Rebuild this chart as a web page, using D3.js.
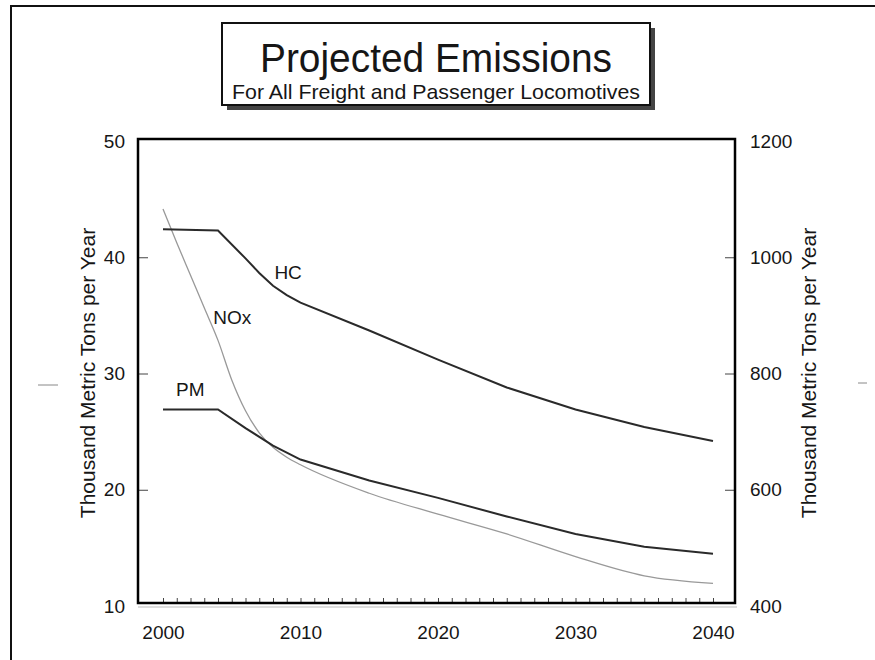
<!DOCTYPE html>
<html>
<head>
<meta charset="utf-8">
<script src="https://cdn.jsdelivr.net/npm/d3@7"></script>
<style>
  body { margin: 0; background: #fff; }
  svg { display: block; font-family: "Liberation Sans", Arial, Helvetica, sans-serif; }
</style>
</head>
<body>
<svg id="chart"></svg>
<script>
// values
const hcYears = [2000, 2004, 2006, 2007, 2008, 2009, 2010, 2015, 2020, 2025, 2030, 2035, 2040];
const hcValues = [42.4, 42.3, 39.9, 38.65, 37.55, 36.75, 36.1, 33.7, 31.2, 28.8, 26.9, 25.4, 24.2];

const pmYears = [2000, 2004, 2006, 2008, 2010, 2015, 2020, 2025, 2030, 2035, 2040];
const pmValues = [26.9, 26.9, 25.3, 23.8, 22.6, 20.8, 19.3, 17.7, 16.2, 15.1, 14.5];

const noxYears = [2000, 2001, 2002, 2003, 2004, 2005, 2006, 2007, 2008, 2009, 2010, 2015, 2020, 2025, 2030, 2035, 2040];
const noxValues = [1083, 1025, 969, 913, 857, 789, 736, 698, 673, 656, 643, 594, 558, 524, 485, 452, 439];

const leftTicks = [10, 20, 30, 40, 50];
const rightTicks = [400, 600, 800, 1000, 1200];
const yearLabels = [2000, 2010, 2020, 2030, 2040];

const title = 'Projected Emissions';
const subtitle = 'For All Freight and Passenger Locomotives';
const yTitle = 'Thousand Metric Tons per Year';

const width = 875, height = 660;
const frame = {left: 138, right: 735, top: 139, bottom: 603};
const ink = '#161616';

const svg = d3.select('#chart')
    .attr('width', width)
    .attr('height', height);

// page border (top and left edge of the scanned sheet)
svg.append('path')
    .attr('d', `M11,${height} L11,6 L${width},6`)
    .attr('fill', 'none')
    .attr('stroke', '#111')
    .attr('stroke-width', 2);

// little punch marks on both sides
svg.append('line').attr('x1', 38).attr('x2', 58).attr('y1', 385).attr('y2', 385)
    .attr('stroke', '#888').attr('stroke-width', 1);
svg.append('line').attr('x1', 858).attr('x2', 867).attr('y1', 383).attr('y2', 383)
    .attr('stroke', '#888').attr('stroke-width', 1);

// title box with drop shadow
const box = {x: 222, y: 23, w: 428, h: 82};
svg.append('rect')
    .attr('x', box.x + 5).attr('y', box.y + 5)
    .attr('width', box.w).attr('height', box.h)
    .attr('fill', '#444');
svg.append('rect')
    .attr('x', box.x).attr('y', box.y)
    .attr('width', box.w).attr('height', box.h)
    .attr('fill', '#fff')
    .attr('stroke', '#111')
    .attr('stroke-width', 2);
svg.append('text')
    .attr('x', box.x + box.w / 2)
    .attr('y', 72)
    .attr('text-anchor', 'middle')
    .attr('textLength', 352)
    .attr('lengthAdjust', 'spacingAndGlyphs')
    .style('font-size', '40px')
    .attr('fill', ink)
    .text(title);
svg.append('text')
    .attr('x', box.x + box.w / 2)
    .attr('y', 99)
    .attr('text-anchor', 'middle')
    .attr('textLength', 408)
    .attr('lengthAdjust', 'spacingAndGlyphs')
    .style('font-size', '21px')
    .attr('fill', ink)
    .text(subtitle);

// scales
const xscale = d3.scaleLinear()
    .domain([2000, 2040])
    .range([163, 713]);

const yleft = d3.scaleLinear()
    .domain([10, 50])
    .range([606, 141]);

const yright = d3.scaleLinear()
    .domain([400, 1200])
    .range([606, 141]);

// axes
const leftAxis = d3.axisLeft(yleft)
    .tickValues(leftTicks)
    .tickSize(-10)
    .tickPadding(13)
    .tickFormat(d3.format('d'));

const rightAxis = d3.axisRight(yright)
    .tickValues(rightTicks)
    .tickSize(-10)
    .tickPadding(15)
    .tickFormat(d3.format('d'));

const minorAxis = d3.axisBottom(xscale)
    .tickValues(d3.range(2000, 2041))
    .tickSize(-5)
    .tickFormat('');

const yearAxis = d3.axisBottom(xscale)
    .tickValues(yearLabels)
    .tickSize(0)
    .tickPadding(23)
    .tickFormat(d3.format('d'));

const styleAxis = g => {
    g.select('.domain').remove();
    g.selectAll('.tick line').attr('stroke', '#444');
    g.selectAll('.tick text')
        .attr('fill', ink)
        .style('font-size', '19px')
        .style('font-family', '"Liberation Sans", Arial, Helvetica, sans-serif');
};

svg.append('g')
    .attr('transform', `translate(${frame.left},0)`)
    .call(leftAxis)
    .call(styleAxis)
    .call(g => g.selectAll('.tick').filter(d => d === 10 || d === 50).select('line').remove());

svg.append('g')
    .attr('transform', `translate(${frame.right},0)`)
    .call(rightAxis)
    .call(styleAxis)
    .call(g => g.selectAll('.tick').filter(d => d === 400 || d === 1200).select('line').remove());

svg.append('g')
    .attr('transform', `translate(0,${frame.bottom})`)
    .call(minorAxis)
    .call(styleAxis);

svg.append('g')
    .attr('transform', `translate(0,${frame.bottom})`)
    .call(yearAxis)
    .call(styleAxis);

// axis titles
svg.append('text')
    .attr('transform', `translate(95,373) rotate(-90)`)
    .attr('text-anchor', 'middle')
    .style('font-size', '21px')
    .attr('fill', ink)
    .text(yTitle);

svg.append('text')
    .attr('transform', `translate(816,373) rotate(-90)`)
    .attr('text-anchor', 'middle')
    .style('font-size', '21px')
    .attr('fill', ink)
    .text(yTitle);

// lines
const toPoints = (xs, ys) => xs.map((x, i) => ({year: x, value: ys[i]}));

const leftLine = d3.line()
    .x(d => xscale(d.year))
    .y(d => yleft(d.value));

const rightLine = d3.line()
    .x(d => xscale(d.year))
    .y(d => yright(d.value))
    .curve(d3.curveMonotoneX);

svg.append('path')
    .attr('d', rightLine(toPoints(noxYears, noxValues)))
    .attr('fill', 'none')
    .attr('stroke', '#999')
    .attr('stroke-width', 1.3);

svg.append('path')
    .attr('d', leftLine(toPoints(hcYears, hcValues)))
    .attr('fill', 'none')
    .attr('stroke', '#2a2a2a')
    .attr('stroke-width', 2);

svg.append('path')
    .attr('d', leftLine(toPoints(pmYears, pmValues)))
    .attr('fill', 'none')
    .attr('stroke', '#2a2a2a')
    .attr('stroke-width', 2);

// series labels
const labels = [
    {text: 'HC', year: 2008.1, value: 38.1},
    {text: 'NOx', year: 2003.65, value: 34.3},
    {text: 'PM', year: 2000.95, value: 28.1}
];
svg.selectAll('.series-label')
    .data(labels)
    .join('text')
    .attr('class', 'series-label')
    .attr('x', d => xscale(d.year))
    .attr('y', d => yleft(d.value))
    .style('font-size', '19px')
    .attr('fill', ink)
    .text(d => d.text);

// plot frame, with a faint shadow under the bottom edge
svg.append('line')
    .attr('x1', frame.left).attr('x2', frame.right + 2)
    .attr('y1', frame.bottom + 4).attr('y2', frame.bottom + 4)
    .attr('stroke', '#bbb')
    .attr('stroke-width', 1);

svg.append('rect')
    .attr('x', frame.left)
    .attr('y', frame.top)
    .attr('width', frame.right - frame.left)
    .attr('height', frame.bottom - frame.top)
    .attr('fill', 'none')
    .attr('stroke', '#000')
    .attr('stroke-width', 2.5);
</script>
</body>
</html>
